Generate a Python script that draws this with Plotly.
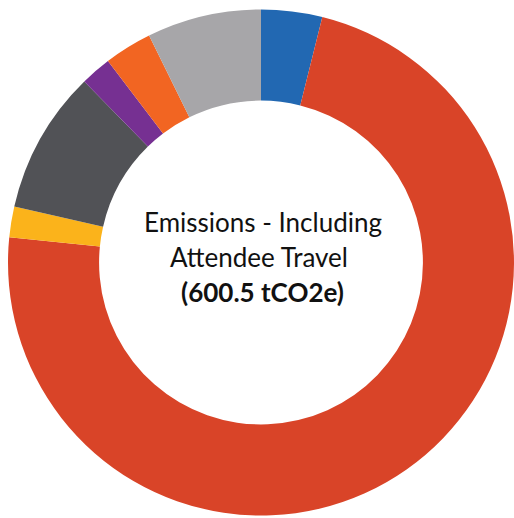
import plotly.graph_objects as go

W, H = 514, 518

categories = ["Venue Energy", "Attendee Travel", "Accommodation", "Food & Beverage",
              "Materials", "Waste", "Staff Travel"]
values = [23.4, 436.5, 11.8, 54.9, 11.8, 18.3, 43.8]
colors = ["#2268B2", "#D94428", "#FBB31B", "#515256", "#763092", "#F26522", "#A7A6A9"]

title_line1 = "Emissions - Including"
title_line2 = "Attendee Travel"
total_label = "(600.5 tCO2e)"

fig = go.Figure(go.Pie(
    labels=categories,
    values=values,
    marker=dict(colors=colors, line=dict(width=0)),
    hole=0.64,
    sort=False,
    direction="clockwise",
    rotation=0,
    textinfo="none",
    showlegend=False,
    domain=dict(x=[8 / W, 1], y=[2.5 / H, 508.5 / H]),
))


def px(x):
    return x / W


def py(y):
    return 1 - y / H


font = "Lato, 'Open Sans', sans-serif"
fig.add_annotation(text=title_line1, x=px(263), y=py(222), xref="paper", yref="paper",
                   showarrow=False, xanchor="center", yanchor="middle",
                   font=dict(family=font, size=26, color="#111111"))
fig.add_annotation(text=title_line2, x=px(259), y=py(257), xref="paper", yref="paper",
                   showarrow=False, xanchor="center", yanchor="middle",
                   font=dict(family=font, size=26, color="#111111"))
fig.add_annotation(text="<b>" + total_label + "</b>", x=px(262.5), y=py(292),
                   xref="paper", yref="paper",
                   showarrow=False, xanchor="center", yanchor="middle",
                   font=dict(family=font, size=26, color="#111111"))

fig.update_layout(
    width=W, height=H,
    margin=dict(l=0, r=0, t=0, b=0),
    paper_bgcolor="white",
    plot_bgcolor="white",
)

fig.write_html(
    "out.html",
    config={"displayModeBar": False},
    post_script="document.body.style.margin='0';document.body.style.overflow='hidden';",
)
